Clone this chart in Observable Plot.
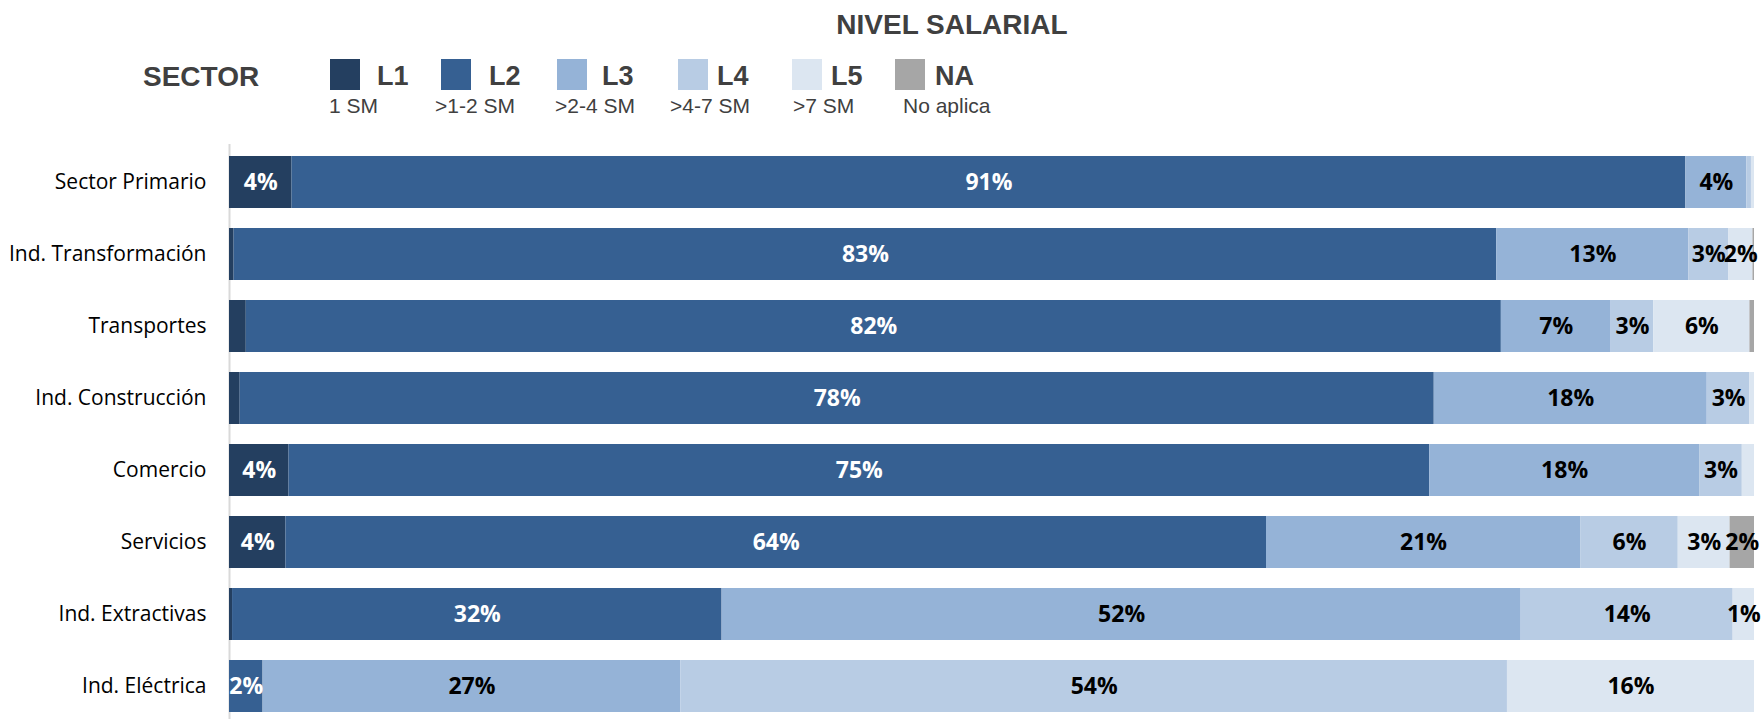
<!DOCTYPE html>
<html>
<head>
<meta charset="utf-8">
<script src="https://cdn.jsdelivr.net/npm/d3@7"></script>
<script src="https://cdn.jsdelivr.net/npm/@observablehq/plot@0.6"></script>
<style>
  html, body { margin: 0; padding: 0; background: #ffffff; }
  #wrap { width: 1763px; height: 719px; position: relative; overflow: hidden; }
  #wrap svg { display: block; }
</style>
</head>
<body>
<div id="wrap"></div>
<script>
// ---- data ----
const sectors = ["Sector Primario", "Ind. Transformación", "Transportes", "Ind. Construcción",
                 "Comercio", "Servicios", "Ind. Extractivas", "Ind. Eléctrica"];
const levels = ["L1", "L2", "L3", "L4", "L5", "NA"];
const levelNotes = ["1 SM", ">1-2 SM", ">2-4 SM", ">4-7 SM", ">7 SM", "No aplica"];
const levelColors = ["#243f60", "#366092", "#95b3d7", "#b8cce4", "#dce6f1", "#a6a6a6"];
const chartTitle = "NIVEL SALARIAL";
const legendTitle = "SECTOR";

// percentages per level, in the order of `sectors`
const L1 = [4.1, 0.3, 1.1, 0.7, 3.9, 3.7, 0.2, 0];
const L2 = [91.4, 82.8, 82.3, 78.3, 74.8, 64.3, 32.1, 2.2];
const L3 = [4.0, 12.6, 7.2, 17.9, 17.7, 20.6, 52.4, 27.4];
const L4 = [0.3, 2.6, 2.8, 2.8, 2.8, 6.4, 13.9, 54.2];
const L5 = [0.2, 1.6, 6.3, 0.3, 0.8, 3.4, 1.4, 16.2];
const NA = [0, 0.1, 0.3, 0, 0, 1.6, 0, 0];

const seriesValues = [L1, L2, L3, L4, L5, NA];
const table = sectors.flatMap((s, i) =>
  levels.map((l, j) => ({sector: s, level: l, value: seriesValues[j][i]})));
const colorOf = new Map(levels.map((l, j) => [l, levelColors[j]]));
const darkLevels = new Set(["L1", "L2"]);

// ---- legend / title (layout) ----
const FONT = "'Liberation Sans', Arial, Helvetica, sans-serif";
const swatchX = [330, 441, 557, 678, 792, 895];
const keyX = [377, 489, 602, 717, 831, 935];
const noteX = [329, 435, 555, 670, 793, 903];

const leg = d3.create("svg")
  .attr("width", 1763).attr("height", 130)
  .style("font-family", FONT);

leg.append("text")
  .attr("x", 952).attr("y", 33.5)
  .attr("text-anchor", "middle")
  .attr("font-size", 28).attr("font-weight", "bold")
  .attr("fill", "#404040")
  .text(chartTitle);

leg.append("text")
  .attr("x", 143).attr("y", 86)
  .attr("font-size", 28).attr("font-weight", "bold")
  .attr("fill", "#404040")
  .text(legendTitle);

levels.forEach((l, j) => {
  leg.append("rect")
    .attr("x", swatchX[j]).attr("y", 59)
    .attr("width", 30).attr("height", 31)
    .attr("fill", levelColors[j]);
  leg.append("text")
    .attr("x", keyX[j]).attr("y", 85)
    .attr("font-size", 27).attr("font-weight", "bold")
    .attr("fill", "#404040")
    .text(l);
  leg.append("text")
    .attr("x", noteX[j]).attr("y", 112.5)
    .attr("font-size", 21)
    .attr("fill", "#404040")
    .text(levelNotes[j]);
});

document.getElementById("wrap").appendChild(leg.node());

// ---- chart ----
const chart = Plot.plot({
  width: 1763,
  height: 589,
  marginLeft: 229,
  marginRight: 9,
  marginTop: 14,
  marginBottom: 0,
  style: {fontFamily: "'Open Sans', sans-serif", fontSize: "21px", color: "#000", background: "#ffffff"},
  x: {domain: [0, 100], axis: null},
  y: {domain: sectors, range: [24, 585], paddingInner: 0.273, paddingOuter: 0,
      tickSize: 0, tickPadding: 23, label: null},
  marks: [
    Plot.ruleX([0], {stroke: "#d9d9d9", strokeWidth: 2}),
    Plot.barX(table, Plot.stackX({
      x: "value", y: "sector", z: "level",
      fill: d => colorOf.get(d.level)
    })),
    Plot.textX(table, Plot.stackX({
      x: "value", y: "sector", z: "level",
      text: d => d.value >= 1.2 ? Math.round(d.value) + "%" : "",
      fill: d => darkLevels.has(d.level) ? "#ffffff" : "#000000",
      fontWeight: "bold",
      fontSize: 23
    }))
  ]
});

document.getElementById("wrap").appendChild(chart);
</script>
</body>
</html>
